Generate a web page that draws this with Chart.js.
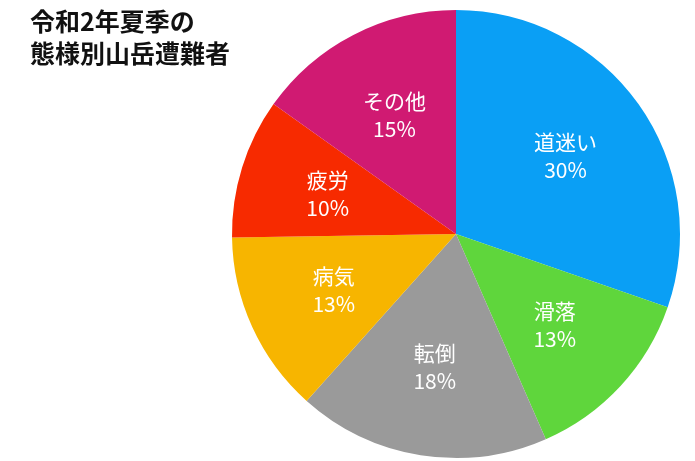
<!DOCTYPE html>
<html>
<head>
<meta charset="utf-8">
<script src="https://cdn.jsdelivr.net/npm/chart.js@4/dist/chart.umd.min.js"></script>
<style>
  html, body { margin: 0; padding: 0; background: #fff; }
  #wrap { position: relative; width: 695px; height: 461px; }
  #title {
    position: absolute; left: 30px; top: 4px;
    font-family: "Noto Sans CJK JP", sans-serif; font-weight: bold;
    font-size: 25px; line-height: 32px; color: #111;
  }
</style>
</head>
<body>
<div id="wrap">
  <canvas id="pie" width="695" height="461"></canvas>
  <div id="title">令和2年夏季の<br>態様別山岳遭難者</div>
</div>
<script>
const categories = ['道迷い', '滑落', '転倒', '病気', '疲労', 'その他'];
const shares = [30, 13, 18, 13, 10, 15];
const sliceColors = ['#0a9ff5', '#5fd63c', '#9a9a9a', '#f7b500', '#f72a00', '#d01a72'];

// draws category + percent inside each slice
const sliceLabels = {
    id: 'sliceLabels',
    afterDatasetsDraw(chart) {
        const ctx = chart.ctx;
        const meta = chart.getDatasetMeta(0);
        ctx.save();
        ctx.fillStyle = '#fff';
        ctx.textAlign = 'center';
        ctx.textBaseline = 'middle';
        ctx.font = '21px "Noto Sans CJK JP", sans-serif';
        meta.data.forEach((arc, i) => {
            const p = arc.getProps(['x', 'y', 'startAngle', 'endAngle', 'outerRadius']);
            const mid = (p.startAngle + p.endAngle) / 2;
            const r = p.outerRadius * 0.6;
            const x = p.x + Math.cos(mid) * r;
            const y = p.y + Math.sin(mid) * r;
            ctx.fillText(categories[i], x, y - 14);
            ctx.fillText(shares[i] + '%', x, y + 14);
        });
        ctx.restore();
    }
};

new Chart(document.getElementById('pie'), {
    type: 'pie',
    data: {
        labels: categories,
        datasets: [{ data: shares, backgroundColor: sliceColors, borderWidth: 0 }]
    },
    options: {
        responsive: false,
        animation: false,
        layout: { padding: { left: 232, right: 15, top: 10, bottom: 3 } },
        plugins: { legend: { display: false }, tooltip: { enabled: false } }
    },
    plugins: [sliceLabels]
});
</script>
</body>
</html>
